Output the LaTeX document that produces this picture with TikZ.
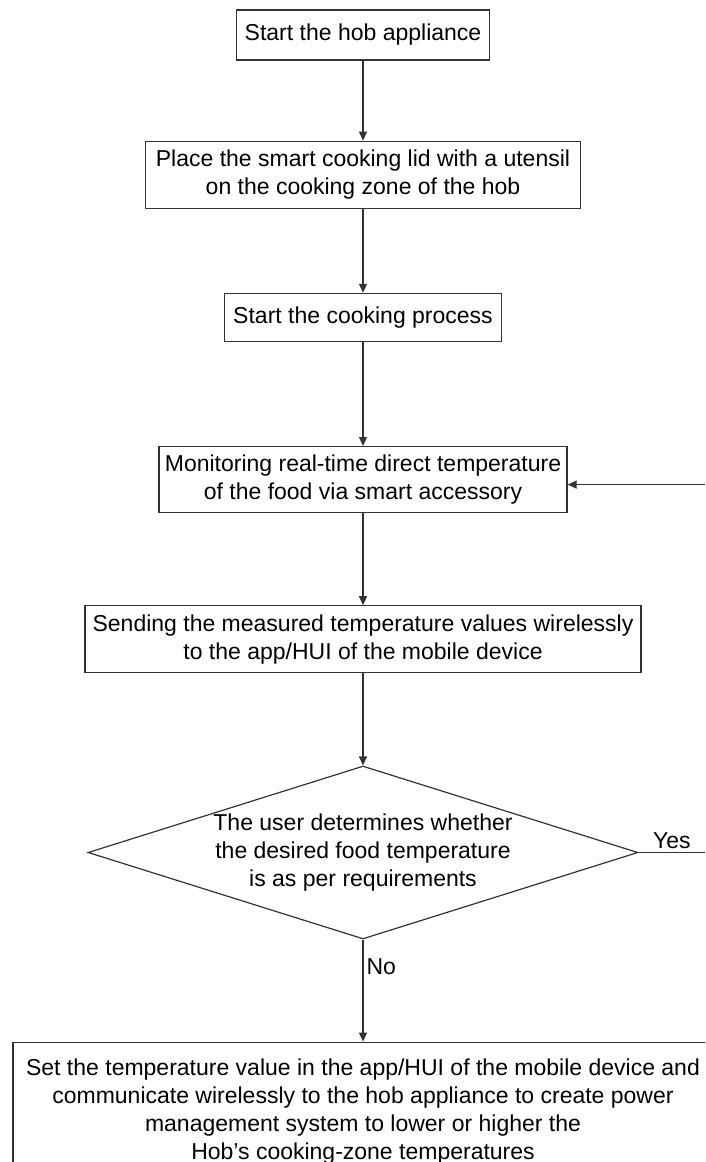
\documentclass[tikz,border=0pt]{standalone}
\usepackage{fontspec}
\setmainfont{Liberation Sans}
\usetikzlibrary{arrows.meta, positioning, shapes.geometric}

\begin{document}
\begin{tikzpicture}[x=1pt, y=1pt,
    stepbox/.style={rectangle, draw=black!80, line width=1.2pt, align=center,
                    font=\fontsize{23}{28}\selectfont, inner sep=2pt},
    decision/.style={diamond, draw=black!80, line width=1.2pt, align=center,
                     font=\fontsize{23}{28}\selectfont, aspect=3.18, inner sep=0pt,
                     minimum width=550pt, minimum height=173pt},
    flow/.style={-{Triangle[length=9pt, width=8pt]}, line width=1.2pt, draw=black!80},
    plain/.style={line width=1.2pt, draw=black!80},
    tag/.style={font=\fontsize{23}{28}\selectfont, inner sep=3pt}
]
\clip (0,0) rectangle (705,-1162);
\coordinate (rim) at (705,0);

\node[stepbox, minimum width=253pt, minimum height=50pt] (start) at (363,-35) {Start the hob appliance};
\node[stepbox, minimum width=435pt, minimum height=67pt, below=80pt of start] (place)
    {Place the smart cooking lid with a utensil\\on the cooking zone of the hob};
\node[stepbox, minimum width=277pt, minimum height=48pt, below=84pt of place] (cook) {Start the cooking process};
\node[stepbox, minimum width=408pt, minimum height=66pt, below=104pt of cook] (monitor)
    {Monitoring real-time direct temperature\\of the food via smart accessory};
\node[stepbox, minimum width=556pt, minimum height=67pt, below=92pt of monitor] (send)
    {Sending the measured temperature values wirelessly\\to the app/HUI of the mobile device};
\node[decision, below=92pt of send] (decide)
    {The user determines whether\\the desired food temperature\\is as per requirements};
\node[stepbox, minimum width=700pt, minimum height=138pt, below=102pt of decide] (action)
    {Set the temperature value in the app/HUI of the mobile device and\\
     communicate wirelessly to the hob appliance to create power\\
     management system to lower or higher the\\
     Hob's cooking-zone temperatures};

\draw[flow] (start) -- (place);
\draw[flow] (place) -- (cook);
\draw[flow] (cook) -- (monitor);
\draw[flow] (monitor) -- (send);
\draw[flow] (send) -- (decide);
\draw[flow] (decide) -- (action) node[tag, pos=0.27, right] {No};
\draw[plain] (decide.east) -- (decide.east -| rim) node[tag, midway, above] {Yes};

% loop back from the yes branch
\coordinate (loopin) at ([yshift=-5pt]monitor.east -| rim);
\draw[flow] (loopin) -- (loopin -| monitor.east);
\end{tikzpicture}
\end{document}
